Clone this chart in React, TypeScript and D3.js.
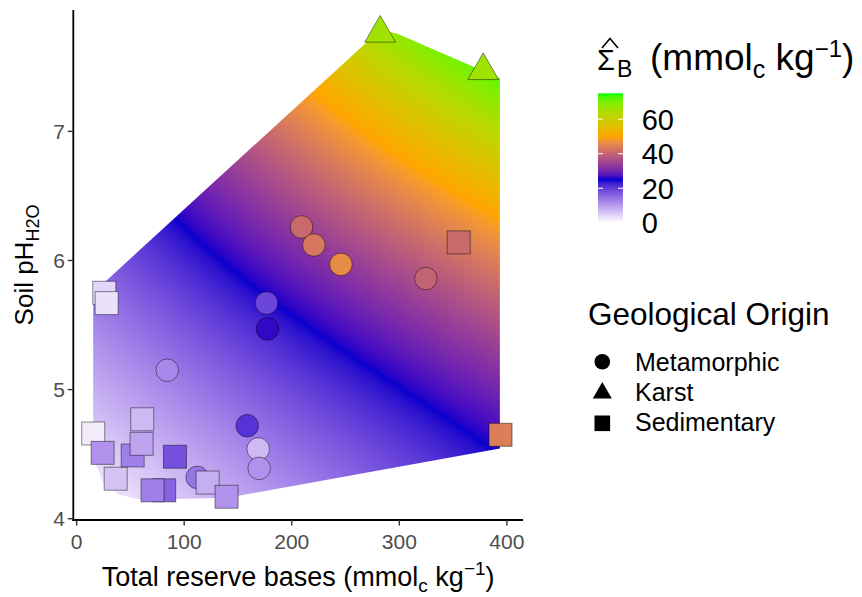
import React, { useMemo } from "react";
import * as d3 from "d3";

const W = 862;
const H = 597;
const FONT = "'Liberation Sans', Arial, Helvetica, sans-serif";

// ---------- data ----------
// Metamorphic sites
const metaTRB = [209.1, 220.6, 245.7, 324.7, 176.6, 177.5, 84.2, 158.6, 168.8, 169.7, 112.1];
const metaPH = [6.26, 6.12, 5.97, 5.86, 5.67, 5.47, 5.15, 4.72, 4.54, 4.39, 4.32];
const metaSB = [41, 43, 46, 40, 19, 26, 12, 21, 7, 11, 14];
// Karst sites
const karstTRB = [282.2, 378.0];
const karstPH = [7.76, 7.47];
const karstSB = [66, 66];
// Sedimentary sites
const sedTRB = [25.7, 27.9, 15.4, 24.2, 36.3, 52.1, 61.0, 60.4, 91.4, 81.4, 70.6, 121.8, 139.4, 355.2, 394.1];
const sedPH = [5.75, 5.67, 4.66, 4.51, 4.31, 4.49, 4.77, 4.58, 4.48, 4.22, 4.22, 4.28, 4.17, 6.14, 4.65];
const sedSB = [4, 3, 2, 11, 6, 13, 7, 9, 18, 16, 13, 8, 11, 41, 44];

// prediction region (hull) outline
const hullTRB = [15.4, 281.9, 297.7, 393.5, 393.5, 140.6, 58.8, 38.4, 24.4, 17.0, 15.4];
const hullPH = [5.751, 7.784, 7.758, 7.412, 4.544, 4.163, 4.147, 4.19, 4.283, 4.44, 4.647];

// fitted surface coefficients: SB = A + B*x + (C + D*x)*u + (E + G*x)*u^2, u = pH - 4
const coefA = -0.829;
const coefB = 0.05528;
const coefC = 8.04;
const coefD = -0.002693;
const coefE = -0.0944;
const coefG = 0.006293;
const pHBase = 4;

// axes / legend
const xTicks = [0, 100, 200, 300, 400];
const yTicks = [4, 5, 6, 7];
const fillTicks = [0, 20, 40, 60];
const fillStops = [0, 25, 50, 75];
const fillColors = ["#ffffff", "#0800cc", "#ffa500", "#00ff00"];
const originLabels = ["Metamorphic", "Karst", "Sedimentary"];

// ---------- layout ----------
const PL = 73.3, PR = 523, PT = 10, PB = 520;

const x = d3.scaleLinear().domain([-3.1, 415]).range([PL, PR]);
const y = d3.scaleLinear().domain([3.99, 7.94]).range([PB, PT]);
const color = d3
  .scaleLinear<string>()
  .domain(fillStops)
  .range(fillColors)
  .interpolate(d3.interpolateLab)
  .clamp(true);

const surface = (trb: number, ph: number) => {
  const u = ph - pHBase;
  return coefA + coefB * trb + (coefC + coefD * trb) * u + (coefE + coefG * trb) * u * u;
};

const legY = d3.scaleLinear().domain([0, 75]).range([222.8, 93.3]);

function triPath(cx: number, cy: number, R: number) {
  const h = (R * Math.sqrt(3)) / 2;
  return `M${cx},${cy - R}L${cx + h},${cy + R / 2}L${cx - h},${cy + R / 2}Z`;
}

export default function App() {
  const surfaceHref = useMemo(() => {
    const w = Math.ceil(PR - PL);
    const h = Math.ceil(PB - PT);
    const cv = document.createElement("canvas");
    cv.width = w;
    cv.height = h;
    const ctx = cv.getContext("2d");
    if (!ctx) return "";
    const N = 1500;
    const lut: number[][] = [];
    for (let i = 0; i <= N; i++) {
      const c = d3.rgb(color((i / N) * 75));
      lut.push([c.r, c.g, c.b]);
    }
    const img = ctx.createImageData(w, h);
    for (let j = 0; j < h; j++) {
      const yv = y.invert(PT + j + 0.5);
      for (let i = 0; i < w; i++) {
        const xv = x.invert(PL + i + 0.5);
        let v = surface(xv, yv);
        v = Math.max(0, Math.min(75, v));
        const c = lut[Math.round((v / 75) * N)];
        const k = (j * w + i) * 4;
        img.data[k] = c[0];
        img.data[k + 1] = c[1];
        img.data[k + 2] = c[2];
        img.data[k + 3] = 255;
      }
    }
    ctx.putImageData(img, 0, 0);
    return cv.toDataURL();
  }, []);

  const hullPath =
    d3
      .line<number>()
      .x((i) => x(hullTRB[i]))
      .y((i) => y(hullPH[i]))(hullTRB.map((_, i) => i)) + "Z";

  const gradStops = d3.range(0, 76, 2.5);
  const stroke = "rgba(0,0,0,0.45)";

  return (
    <svg
      width={W}
      height={H}
      style={{ position: "absolute", left: 0, top: 0, background: "#fff" }}
      fontFamily={FONT}
    >
      <defs>
        <clipPath id="hullClip">
          <path d={hullPath} />
        </clipPath>
        <linearGradient id="fillBar" x1="0" y1="1" x2="0" y2="0">
          {gradStops.map((v) => (
            <stop key={v} offset={v / 75} stopColor={color(v)} />
          ))}
        </linearGradient>
      </defs>
      <rect x={0} y={0} width={W} height={H} fill="#fff" />

      {/* surface */}
      <image
        href={surfaceHref}
        x={PL}
        y={PT}
        width={Math.ceil(PR - PL)}
        height={Math.ceil(PB - PT)}
        clipPath="url(#hullClip)"
        preserveAspectRatio="none"
      />

      {/* points: metamorphic */}
      {metaTRB.map((v, i) => (
        <circle
          key={"m" + i}
          cx={x(v)}
          cy={y(metaPH[i])}
          r={11.3}
          fill={color(metaSB[i])}
          stroke={stroke}
          strokeWidth={1}
        />
      ))}
      {/* karst */}
      {karstTRB.map((v, i) => (
        <path
          key={"k" + i}
          d={triPath(x(v), y(karstPH[i]), 17.8)}
          fill={color(karstSB[i])}
          stroke={stroke}
          strokeWidth={1}
        />
      ))}
      {/* sedimentary */}
      {sedTRB.map((v, i) => (
        <rect
          key={"s" + i}
          x={x(v) - 11.5}
          y={y(sedPH[i]) - 11.5}
          width={23}
          height={23}
          fill={color(sedSB[i])}
          stroke={stroke}
          strokeWidth={1}
        />
      ))}

      {/* axes */}
      <line x1={PL} x2={PL} y1={PT} y2={PB + 0.9} stroke="#000" strokeWidth={1.8} />
      <line x1={PL - 0.9} x2={PR} y1={PB} y2={PB} stroke="#000" strokeWidth={1.8} />
      {xTicks.map((t) => (
        <g key={"xt" + t}>
          <line x1={x(t)} x2={x(t)} y1={PB} y2={PB + 5.5} stroke="#333" strokeWidth={1.4} />
          <text x={x(t)} y={548.5} textAnchor="middle" fontSize={21} fill="#4d4d4d">
            {t}
          </text>
        </g>
      ))}
      {yTicks.map((t) => (
        <g key={"yt" + t}>
          <line x1={PL - 5.5} x2={PL} y1={y(t)} y2={y(t)} stroke="#333" strokeWidth={1.4} />
          <text x={65} y={y(t) + 7.5} textAnchor="end" fontSize={21} fill="#4d4d4d">
            {t}
          </text>
        </g>
      ))}

      {/* axis titles */}
      <text x={(PL + PR) / 2} y={586} textAnchor="middle" fontSize={27} fill="#000">
        Total reserve bases (mmol
        <tspan fontSize={19} dy={6}>
          c
        </tspan>
        <tspan dy={-6}> kg</tspan>
        <tspan fontSize={19} dy={-11}>
          −1
        </tspan>
        <tspan dy={11}>)</tspan>
      </text>
      <text
        transform={`translate(33,${(PT + PB) / 2}) rotate(-90)`}
        textAnchor="middle"
        fontSize={26}
        fill="#000"
      >
        Soil pH
        <tspan fontSize={18} dy={6}>
          H2O
        </tspan>
      </text>

      {/* fill legend */}
      <text x={597} y={70} fontSize={29} fill="#000">
        Σ
      </text>
      <path d="M602,48L610,38.5L618,48" fill="none" stroke="#000" strokeWidth={1.6} />
      <text x={617} y={77} fontSize={23} fill="#000">
        B
      </text>
      <text x={650} y={70} fontSize={37} fill="#000">
        (mmol
        <tspan fontSize={25} dy={8}>
          c
        </tspan>
        <tspan dy={-8}> kg</tspan>
        <tspan fontSize={24} dy={-13}>
          −1
        </tspan>
        <tspan dy={13}>)</tspan>
      </text>
      <rect x={598} y={legY(75)} width={25} height={legY(0) - legY(75)} fill="url(#fillBar)" />
      {fillTicks.map((t) => (
        <g key={"ft" + t}>
          <line x1={598} x2={603} y1={legY(t)} y2={legY(t)} stroke="#fff" strokeWidth={1} />
          <line x1={618} x2={623} y1={legY(t)} y2={legY(t)} stroke="#fff" strokeWidth={1} />
          <text x={641.7} y={legY(t) + 10.5} fontSize={29} fill="#000">
            {t}
          </text>
        </g>
      ))}

      {/* shape legend */}
      <text x={588} y={325} fontSize={31.5} fill="#000">
        Geological Origin
      </text>
      <circle cx={602.3} cy={361.7} r={7.8} fill="#000" />
      <path d={triPath(602.3, 393, 11)} fill="#000" />
      <rect x={602.3 - 7.8} y={423.3 - 7.8} width={15.6} height={15.6} fill="#000" />
      {originLabels.map((lab, i) => (
        <text key={lab} x={635} y={370.7 + i * 30} fontSize={25} fill="#000">
          {lab}
        </text>
      ))}
    </svg>
  );
}
